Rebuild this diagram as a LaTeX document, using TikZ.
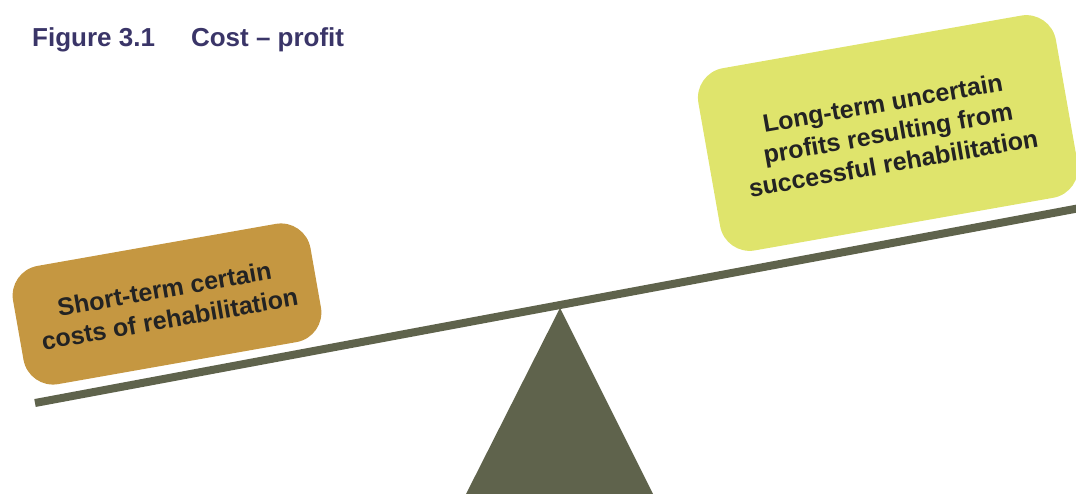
\documentclass[tikz,border=0pt]{standalone}
\usepackage{fontspec}
\setmainfont{Liberation Sans}
\definecolor{beamcol}{HTML}{5F634C}
\definecolor{costcol}{HTML}{C59741}
\definecolor{profitcol}{HTML}{DFE46C}
\definecolor{titlecol}{HTML}{3A3568}
\definecolor{textcol}{HTML}{232323}
\tikzset{
  panbox/.style={rectangle, rounded corners=30pt, rotate=10, align=center, inner sep=0pt,
    text=textcol, font=\fontsize{25}{30.5}\selectfont\bfseries},
  beamline/.style={draw=beamcol, line width=8pt},
}
\begin{document}
\begin{tikzpicture}[x=1pt,y=-1pt]
\useasboundingbox (0,0) rectangle (1076,494);
% fulcrum
\coordinate (apex) at (560,308);
\coordinate (baseL) at (464,498);
\coordinate (baseR) at (655,498);
\fill[beamcol] (apex) -- (baseR) -- (baseL) -- cycle;
% beam
\coordinate (beamL) at (35,403);
\coordinate (beamR) at (1080,208);
\draw[beamline] (beamL) -- (beamR);
% boxes
\node[panbox, fill=costcol, minimum width=302pt, minimum height=120pt] (cost) at (167,304)
  {Short-term certain\\costs of rehabilitation};
\node[panbox, fill=profitcol, minimum width=363pt, minimum height=185pt] (profit) at (888,133)
  {Long-term uncertain\\profits resulting from\\successful rehabilitation};
% title
\node[anchor=base west, inner sep=0pt, text=titlecol, font=\fontsize{26}{30}\selectfont\bfseries] (title) at (32,47)
  {Figure 3.1\hspace{36pt}Cost – profit};
\end{tikzpicture}
\end{document}
